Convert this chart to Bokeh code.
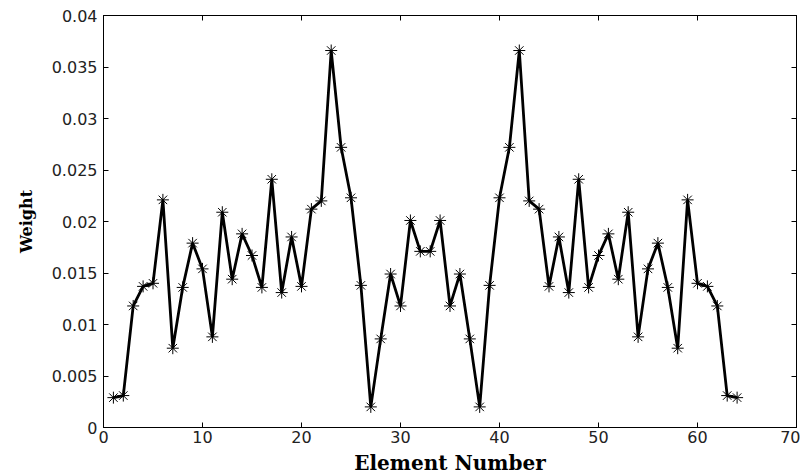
from bokeh.plotting import figure
from bokeh.models import LinearAxis, FixedTicker, Range1d
from bokeh.embed import file_html
from bokeh.resources import INLINE

element = list(range(1, 65))
weight = [
    0.0029, 0.0031, 0.0118, 0.0137, 0.0140, 0.0221, 0.0077, 0.0136,
    0.0179, 0.0154, 0.0088, 0.0209, 0.0144, 0.0188, 0.0167, 0.0136,
    0.0241, 0.0131, 0.0185, 0.0137, 0.0212, 0.0220, 0.0366, 0.0272,
    0.0223, 0.0138, 0.0020, 0.0086, 0.0149, 0.0118, 0.0201, 0.0171,
    0.0171, 0.0201, 0.0118, 0.0149, 0.0086, 0.0020, 0.0138, 0.0223,
    0.0272, 0.0366, 0.0220, 0.0212, 0.0137, 0.0185, 0.0131, 0.0241,
    0.0136, 0.0167, 0.0188, 0.0144, 0.0209, 0.0088, 0.0154, 0.0179,
    0.0136, 0.0077, 0.0221, 0.0140, 0.0137, 0.0118, 0.0031, 0.0029,
]
x_ticks = [0, 10, 20, 30, 40, 50, 60, 70]
y_ticks = [0, 0.005, 0.01, 0.015, 0.02, 0.025, 0.03, 0.035, 0.04]
y_tick_labels = ["0", "0.005", "0.01", "0.015", "0.02", "0.025", "0.03", "0.035", "0.04"]

p = figure(width=800, height=476, output_backend="svg", toolbar_location=None,
           x_range=Range1d(0, 70), y_range=Range1d(0, 0.04),
           frame_width=693, frame_height=412,
           min_border_left=103, min_border_top=15, min_border_right=4, min_border_bottom=49,
           x_axis_label="Element Number", y_axis_label="Weight")
p.background_fill_color = "white"
p.border_fill_color = "white"
p.outline_line_color = "black"
p.outline_line_width = 1
p.xgrid.visible = False
p.ygrid.visible = False

p.line(element, weight, line_color="black", line_width=2.8)
p.scatter(element, weight, marker="asterisk", size=12, line_color="black", line_width=1)

for ax in p.xaxis:
    ax.ticker = FixedTicker(ticks=x_ticks)
for ax in p.yaxis:
    ax.ticker = FixedTicker(ticks=y_ticks)
    ax.major_label_overrides = {t: l for t, l in zip(y_ticks, y_tick_labels)}

for ax in list(p.xaxis) + list(p.yaxis):
    ax.major_tick_in = 5
    ax.major_tick_out = 0
    ax.minor_tick_line_color = None
    ax.axis_line_color = "black"
    ax.major_tick_line_color = "black"
    ax.major_label_text_font = "DejaVu Sans"
    ax.major_label_text_font_size = "16px"
    ax.major_label_text_color = "#222222"
    ax.axis_label_text_font = "DejaVu Serif"
    ax.axis_label_text_font_style = "bold"
    ax.axis_label_text_color = "black"

p.xaxis.axis_label_text_font_size = "20px"
p.yaxis.axis_label_text_font_size = "16px"
p.xaxis.major_label_standoff = 3
p.xaxis.axis_label_standoff = 5
p.yaxis.major_label_standoff = 6
p.yaxis.axis_label_standoff = 13

top = LinearAxis(ticker=FixedTicker(ticks=x_ticks),
                 major_label_overrides={t: "" for t in x_ticks},
                 major_tick_in=5, major_tick_out=0, minor_tick_line_color=None,
                 major_label_standoff=0)
right = LinearAxis(ticker=FixedTicker(ticks=y_ticks),
                   major_label_overrides={t: "" for t in y_ticks},
                   major_tick_in=5, major_tick_out=0, minor_tick_line_color=None,
                   major_label_standoff=0)
p.add_layout(top, "above")
p.add_layout(right, "right")

open("out.html", "w").write(file_html(p, INLINE))
